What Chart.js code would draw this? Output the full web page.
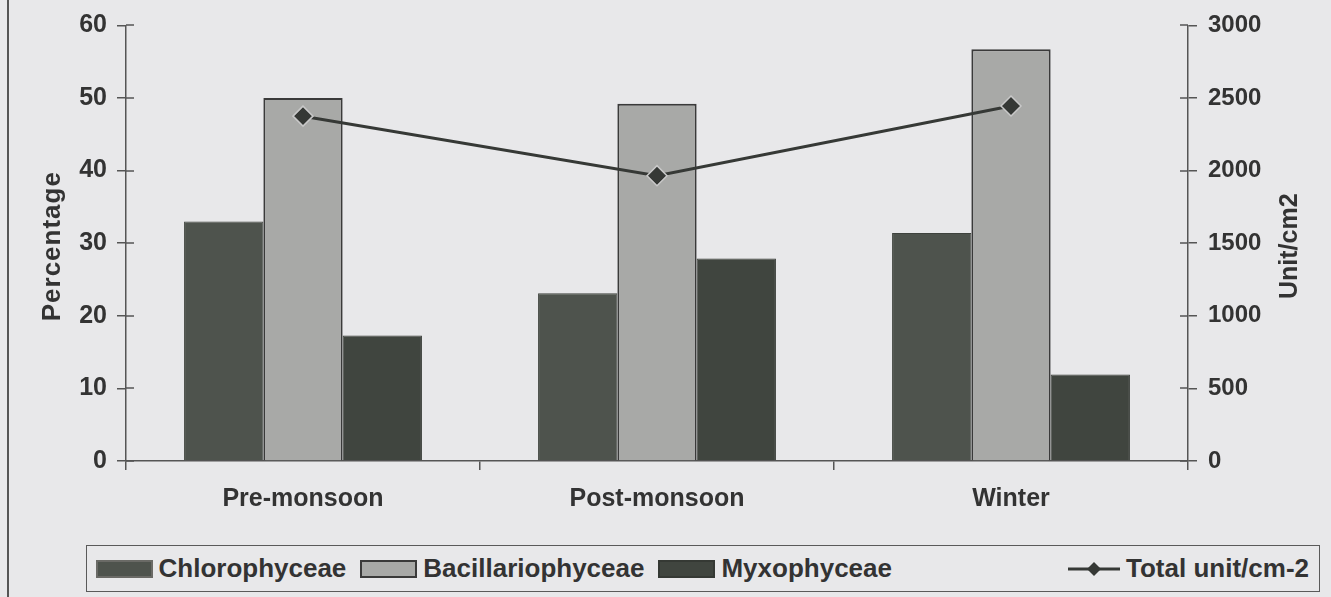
<!DOCTYPE html>
<html>
<head>
<meta charset="utf-8">
<script src="https://cdn.jsdelivr.net/npm/chart.js@4.4.0/dist/chart.umd.min.js"></script>
<style>
  html, body { margin: 0; padding: 0; background: #e8e8ea; }
  #wrap { position: relative; width: 1331px; height: 597px; overflow: hidden; }
  #frame { position: absolute; left: 7px; top: 0; width: 2px; height: 597px; background: #555; }
  #chartBox { position: absolute; left: 0; top: 0; width: 1331px; height: 530px; }
  #legend {
    position: absolute; left: 86px; top: 545px; width: 1234px; height: 47px;
    border: 1.5px solid #5a5a5a; box-sizing: border-box;
    display: flex; align-items: center; padding-left: 8.5px;
    font-family: "Liberation Sans", Arial, sans-serif; font-weight: bold; font-size: 26px; color: #333;
  }
  #legend .item { display: flex; align-items: center; margin-right: 14px; }
  #legend .sw { width: 57px; height: 18px; margin-right: 6px; box-sizing: border-box; }
  #legend .spacer { flex: 1; }
</style>
</head>
<body>
<div id="wrap">
  <div id="frame"></div>
  <div id="chartBox"><canvas id="chart"></canvas></div>
  <div id="legend"></div>
</div>
<script>
// Data
const seasons = ['Pre-monsoon', 'Post-monsoon', 'Winter'];
const chlorophyceae = [33.0, 23.1, 31.4];
const bacillariophyceae = [50.0, 49.2, 56.7];
const myxophyceae = [17.3, 27.9, 11.9];
const totalUnits = [2375, 1965, 2445];

const percentTicks = [0, 10, 20, 30, 40, 50, 60];
const unitTicks = [0, 500, 1000, 1500, 2000, 2500, 3000];

const axisColor = '#555555';
const textColor = '#333333';
const fontFamily = '"Liberation Sans", Arial, sans-serif';

const barStyles = [
  { backgroundColor: '#4e534d', borderColor: '#3e423d', borderWidth: 1 },
  { backgroundColor: '#a8a9a7', borderColor: '#3a3a3a', borderWidth: 2 },
  { backgroundColor: '#40453f', borderColor: '#353934', borderWidth: 1 },
];

// axis titles + tick marks crossing the axis line
const axisExtras = {
  id: 'axisExtras',
  afterDraw(c) {
    const ctx = c.ctx;
    const area = c.chartArea;
    ctx.save();
    ctx.strokeStyle = axisColor;
    ctx.lineWidth = 1.5;
    ['y', 'y1'].forEach((id) => {
      const s = c.scales[id];
      const x = id === 'y' ? s.right : s.left;
      const dir = id === 'y' ? 1 : -1;
      s.ticks.forEach((t) => {
        const py = Math.round(s.getPixelForValue(t.value));
        ctx.beginPath();
        ctx.moveTo(x, py);
        ctx.lineTo(x + dir * 8, py);
        ctx.stroke();
      });
    });
    ctx.fillStyle = textColor;
    ctx.textAlign = 'center';
    ctx.textBaseline = 'middle';
    const mid = (area.top + area.bottom) / 2 + 3;
    [['Percentage', 53, 26, '1px'], ['Unit/cm2', 1290, 25, '0px']].forEach(([txt, x, size, ls]) => {
      ctx.save();
      ctx.font = 'bold ' + size + 'px ' + fontFamily;
      ctx.letterSpacing = ls;
      ctx.translate(x, mid);
      ctx.rotate(-Math.PI / 2);
      ctx.fillText(txt, 0, 0);
      ctx.restore();
    });
    ctx.restore();
  },
};

const chart = new Chart(document.getElementById('chart'), {
  data: {
    labels: seasons,
    datasets: [
      {
        type: 'line',
        label: 'Total unit/cm-2',
        data: totalUnits,
        yAxisID: 'y1',
        borderColor: '#363936',
        borderWidth: 3,
        pointStyle: 'rectRot',
        pointRadius: 10,
        pointBackgroundColor: '#353835',
        pointBorderColor: '#c8c8c8',
        pointBorderWidth: 1.5,
        order: 0,
      },
      {
        type: 'bar', label: 'Chlorophyceae', data: chlorophyceae, yAxisID: 'y',
        ...barStyles[0], barPercentage: 1, categoryPercentage: 0.672, order: 1,
      },
      {
        type: 'bar', label: 'Bacillariophyceae', data: bacillariophyceae, yAxisID: 'y',
        ...barStyles[1], barPercentage: 1, categoryPercentage: 0.672, order: 1,
      },
      {
        type: 'bar', label: 'Myxophyceae', data: myxophyceae, yAxisID: 'y',
        ...barStyles[2], barPercentage: 1, categoryPercentage: 0.672, order: 1,
      },
    ],
  },
  options: {
    responsive: true,
    maintainAspectRatio: false,
    animation: false,
    layout: { padding: { top: 24, left: 0, right: 0, bottom: 0 } },
    plugins: {
      legend: { display: false },
      tooltip: { enabled: false },
    },
    scales: {
      x: {
        grid: { offset: true, drawOnChartArea: false, tickLength: 9, color: axisColor, lineWidth: 1.5 },
        border: { color: axisColor, width: 1.5 },
        ticks: { color: textColor, font: { family: fontFamily, size: 25, weight: 'bold' }, padding: 14 },
        afterFit: (s) => { s.height = 69; },
      },
      y: {
        position: 'left',
        min: 0, max: 60,
        afterBuildTicks: (s) => { s.ticks = percentTicks.map((v) => ({ value: v })); },
        grid: { drawOnChartArea: false, tickLength: 9, color: axisColor, lineWidth: 1.5 },
        border: { color: axisColor, width: 1.5 },
        ticks: { color: textColor, font: { family: fontFamily, size: 25, weight: 'bold' }, padding: 10 },
        afterFit: (s) => { s.width = 126; },
      },
      y1: {
        position: 'right',
        min: 0, max: 3000,
        afterBuildTicks: (s) => { s.ticks = unitTicks.map((v) => ({ value: v })); },
        grid: { drawOnChartArea: false, tickLength: 9, color: axisColor, lineWidth: 1.5 },
        border: { color: axisColor, width: 1.5 },
        ticks: {
          color: textColor, font: { family: fontFamily, size: 24, weight: 'bold' }, padding: 11,
          callback: (v) => String(v),
        },
        afterFit: (s) => { s.width = 143; },
      },
    },
  },
  plugins: [axisExtras],
});

// HTML legend built from the datasets
const legend = document.getElementById('legend');
const ds = chart.data.datasets;
[1, 2, 3].forEach((i) => {
  const item = document.createElement('div');
  item.className = 'item';
  const sw = document.createElement('span');
  sw.className = 'sw';
  sw.style.background = ds[i].backgroundColor;
  sw.style.border = '2px solid ' + (i === 1 ? '#6a6a66' : ds[i].borderColor);
  item.appendChild(sw);
  item.appendChild(document.createTextNode(ds[i].label));
  legend.appendChild(item);
});
const spacer = document.createElement('div');
spacer.className = 'spacer';
legend.appendChild(spacer);
const lineItem = document.createElement('div');
lineItem.className = 'item';
lineItem.style.marginRight = '10px';
const lineSw = document.createElement('canvas');
lineSw.width = 52; lineSw.height = 20;
lineSw.style.marginRight = '6px';
const lctx = lineSw.getContext('2d');
lctx.strokeStyle = ds[0].borderColor;
lctx.lineWidth = 3;
lctx.beginPath(); lctx.moveTo(0, 10); lctx.lineTo(52, 10); lctx.stroke();
lctx.fillStyle = ds[0].pointBackgroundColor;
lctx.beginPath(); lctx.moveTo(26, 3); lctx.lineTo(33, 10); lctx.lineTo(26, 17); lctx.lineTo(19, 10); lctx.closePath(); lctx.fill();
lineItem.appendChild(lineSw);
lineItem.appendChild(document.createTextNode(ds[0].label));
legend.appendChild(lineItem);
</script>
</body>
</html>
